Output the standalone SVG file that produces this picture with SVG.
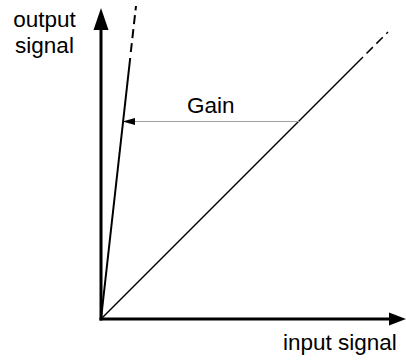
<svg xmlns="http://www.w3.org/2000/svg" width="406" height="360" viewBox="0 0 406 360">
<style>
text{font-family:"Liberation Sans",Arial,sans-serif;font-size:22.5px;fill:#000}
.axis{stroke:#000;stroke-width:3;fill:none}
.ln{stroke:#000;fill:none}
.dash{stroke:#000;fill:none;stroke-dasharray:9 5}
.gain{stroke:#a0a0a0;stroke-width:1;fill:none}
</style>
<rect width="406" height="360" fill="#fff"/>
<g id="connectors">
<g id="y-axis"><line class="axis" x1="101" y1="320.5" x2="101" y2="28"/><polygon points="101,8 108.5,30 93.5,30" fill="#000"/></g>
<g id="x-axis"><line class="axis" x1="99.5" y1="319" x2="391" y2="319"/><polygon points="406,319 389,312.5 389,325.5" fill="#000"/></g>
<g id="steep-line"><line class="ln" stroke-width="2" x1="101" y1="319" x2="130.2" y2="58"/><line class="dash" stroke-width="2" x1="130.8" y1="52" x2="136" y2="6"/></g>
<g id="shallow-line"><line class="ln" stroke-width="1.5" x1="101" y1="319" x2="363" y2="57"/><line class="dash" stroke-width="1.5" stroke-dasharray="11 5" x1="366.5" y1="53.5" x2="388" y2="32"/></g>
<g id="gain-arrow"><line class="gain" x1="134" y1="121.5" x2="299" y2="121.5"/><polygon points="122.5,121.5 135,118 135,125" fill="#000"/></g>
</g>
<g id="label-output"><text x="44.5" y="27" text-anchor="middle">output</text><text x="44.5" y="52.5" text-anchor="middle">signal</text></g>
<g id="label-gain"><text x="187" y="113">Gain</text></g>
<g id="label-input"><text x="283" y="350">input signal</text></g>
</svg>
